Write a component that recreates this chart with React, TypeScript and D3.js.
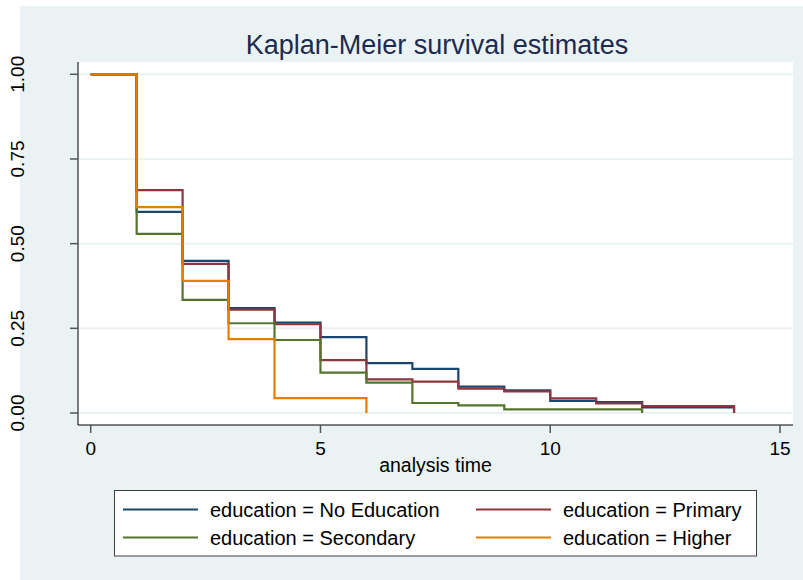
import React from "react";
import * as d3 from "d3";

const seriesNames = ["education = No Education", "education = Primary", "education = Secondary", "education = Higher"];
const seriesColors = ["#1a476f", "#90353b", "#55752f", "#e37e00"];

const noEduTimes = [0, 1, 2, 3, 4, 5, 6, 7, 8, 9, 10, 11, 12, 14];
const noEduSurv = [1, 0.594, 0.449, 0.31, 0.267, 0.224, 0.147, 0.13, 0.078, 0.067, 0.036, 0.0325, 0.0168, 0];

const primaryTimes = [0, 1, 2, 3, 4, 5, 6, 7, 8, 9, 10, 11, 12, 14];
const primarySurv = [1, 0.658, 0.44, 0.305, 0.262, 0.156, 0.0995, 0.0925, 0.072, 0.064, 0.043, 0.0286, 0.0207, 0];

const secondaryTimes = [0, 1, 2, 3, 4, 5, 6, 7, 8, 9, 12];
const secondarySurv = [1, 0.529, 0.334, 0.265, 0.2155, 0.119, 0.0895, 0.0295, 0.0227, 0.0105, 0];

const higherTimes = [0, 1, 2, 3, 4, 6];
const higherSurv = [1, 0.608, 0.39, 0.218, 0.044, 0];

const xTicks = [0, 5, 10, 15];
const yTicks = [0, 0.25, 0.5, 0.75, 1];

const titleText = "Kaplan-Meier survival estimates";
const xTitle = "analysis time";

export default function App() {
  const W = 803, H = 580;
  const plotL = 78, plotR = 793, plotT = 62, plotB = 425;
  const x = d3.scaleLinear().domain([0, 15]).range([90.7, 780]);
  const y = d3.scaleLinear().domain([0, 1]).range([413, 74.3]);
  const font = "'Liberation Sans', Arial, sans-serif";

  const series = [
    { t: noEduTimes, s: noEduSurv },
    { t: primaryTimes, s: primarySurv },
    { t: secondaryTimes, s: secondarySurv },
    { t: higherTimes, s: higherSurv },
  ];
  const line = d3
    .line<[number, number]>()
    .x((d) => x(d[0]))
    .y((d) => y(d[1]))
    .curve(d3.curveStepAfter);

  const legendX = 114.5, legendY = 490.5, legendW = 642, legendH = 65.5;
  const legendCols = [123, 476];
  const legendRows = [509.5, 537.5];

  return (
    <svg width={W} height={H} style={{ position: "absolute", left: 0, top: 0 }} fontFamily={font}>
      <rect x={20} y={6} width={W - 20} height={H - 6} fill="#eaf2f3" />
      <rect x={plotL} y={plotT} width={plotR - plotL} height={plotB - plotT} fill="#ffffff" />
      {yTicks.map((v) => (
        <line key={"g" + v} x1={plotL} x2={plotR} y1={y(v)} y2={y(v)} stroke="#eaf2f3" strokeWidth={2} />
      ))}
      {series.map((sr, i) => (
        <path
          key={i}
          d={line(sr.t.map((t, j) => [t, sr.s[j]] as [number, number])) || ""}
          fill="none"
          stroke={seriesColors[i]}
          strokeWidth={2.2}
        />
      ))}
      <line x1={plotL} x2={plotL} y1={plotT} y2={plotB} stroke="#000" strokeWidth={1} />
      <line x1={plotL} x2={plotR} y1={plotB} y2={plotB} stroke="#000" strokeWidth={1} />
      {yTicks.map((v) => (
        <g key={"y" + v}>
          <line x1={plotL - 8} x2={plotL} y1={y(v)} y2={y(v)} stroke="#555" strokeWidth={1.5} />
          <text
            transform={`translate(24,${y(v)}) rotate(-90)`}
            textAnchor="middle"
            fontSize={19}
            fill="#000"
          >
            {d3.format(".2f")(v)}
          </text>
        </g>
      ))}
      {xTicks.map((v) => (
        <g key={"x" + v}>
          <line x1={x(v)} x2={x(v)} y1={plotB} y2={plotB + 8} stroke="#555" strokeWidth={1.5} />
          <text x={x(v)} y={455} textAnchor="middle" fontSize={19} fill="#000">
            {v}
          </text>
        </g>
      ))}
      <text x={(plotL + plotR) / 2} y={472} textAnchor="middle" fontSize={19.5} fill="#000">
        {xTitle}
      </text>
      <text x={437} y={54} textAnchor="middle" fontSize={27} fill="#1c2b4f">
        {titleText}
      </text>
      <rect x={legendX} y={legendY} width={legendW} height={legendH} fill="#fff" stroke="#404040" strokeWidth={1} />
      {seriesNames.map((name, i) => {
        const cx = legendCols[i % 2];
        const cy = legendRows[Math.floor(i / 2)];
        return (
          <g key={name}>
            <line x1={cx} x2={cx + 75} y1={cy} y2={cy} stroke={seriesColors[i]} strokeWidth={2} />
            <text x={cx + 87} y={cy + 7} fontSize={20} fill="#000">
              {name}
            </text>
          </g>
        );
      })}
    </svg>
  );
}
